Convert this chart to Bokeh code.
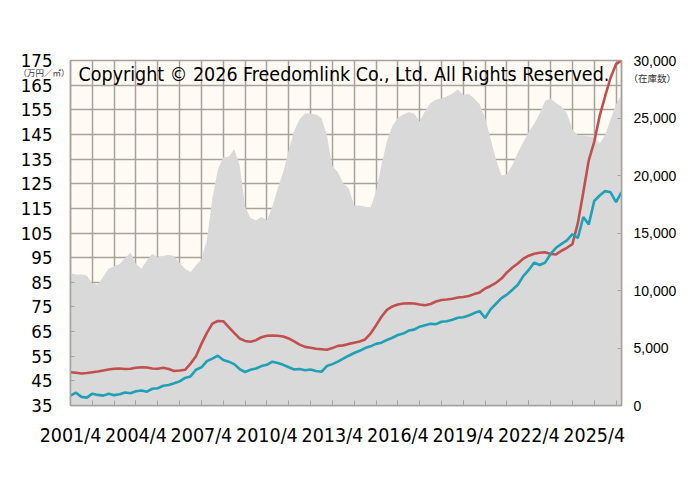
from bokeh.plotting import figure
from bokeh.models import Range1d, LinearAxis, FixedTicker, NumeralTickFormatter, Label
from bokeh.embed import file_html
from bokeh.resources import INLINE

# months since 2001/4, quarterly samples
months = [3 * q for q in range(102)]

stock = [11500, 11400, 11400, 11300, 10600, 10500, 11200, 11900, 12100, 12300,
         12800, 13300, 12300, 11900, 12600, 13200, 12900, 13000, 13100, 13000,
         12400, 11900, 11600, 12200, 12700, 14400, 18000, 20500, 21600, 21600,
         22300, 20900, 17300, 16300, 16100, 16400, 16100, 17300, 18900, 20300,
         22200, 23900, 24900, 25400, 25400, 25300, 25000, 23500, 20800, 20300,
         19300, 18900, 17400, 17400, 17300, 17200, 18600, 20900, 23000, 24300,
         25000, 25300, 25500, 25400, 24700, 25600, 26300, 26600, 26700, 26900,
         27100, 27500, 27000, 27100, 26700, 26200, 25000, 23200, 21400, 20000,
         20100, 20900, 22000, 22900, 23800, 24500, 25400, 26500, 26700, 26300,
         26000, 25400, 24000, 23500, 23500, 23400, 23400, 22800, 23500, 24900,
         26200, 27000]

price_red = [48.5, 48.3, 48.0, 48.2, 48.5, 48.8, 49.2, 49.6, 49.9, 50.0,
             49.8, 49.9, 50.3, 50.5, 50.4, 50.0, 49.9, 50.3, 49.8, 49.0,
             49.2, 49.5, 52.0, 55.0, 60.0, 64.5, 68.2, 69.3, 69.2, 66.8,
             64.5, 62.2, 61.2, 60.9, 61.5, 62.7, 63.3, 63.4, 63.3, 63.0,
             62.2, 61.0, 59.7, 58.8, 58.4, 58.0, 57.8, 57.6, 58.3, 59.2,
             59.4, 60.0, 60.5, 61.0, 61.8, 64.2, 67.5, 71.0, 73.8, 75.2,
             76.0, 76.4, 76.5, 76.4, 76.0, 75.7, 76.2, 77.2, 77.8, 78.0,
             78.3, 78.8, 79.0, 79.4, 80.2, 80.9, 82.5, 83.5, 84.8, 86.5,
             89.0, 91.0, 92.6, 94.6, 95.8, 96.6, 97.0, 97.2, 96.5, 96.3,
             97.8, 99.0, 100.5, 109.0, 121.5, 134.5, 142.0, 152.5, 160.5, 168.0,
             173.5, 175.0]

price_teal = [39.0, 40.2, 38.5, 38.2, 39.8, 39.3, 39.0, 39.8, 39.2, 39.6,
              40.3, 40.0, 40.8, 41.1, 40.6, 41.8, 42.0, 43.0, 43.3, 44.0,
              44.8, 46.2, 46.8, 49.5, 50.5, 53.0, 54.0, 55.2, 53.5, 52.8,
              51.8, 49.8, 48.6, 49.5, 50.0, 51.0, 51.5, 52.8, 52.2, 51.5,
              50.5, 49.6, 49.8, 49.3, 49.6, 49.0, 48.7, 51.0, 51.8, 52.8,
              54.0, 55.2, 56.3, 57.2, 58.3, 59.0, 60.0, 60.5, 61.6, 62.5,
              63.6, 64.2, 65.4, 65.8, 67.0, 67.6, 68.2, 68.0, 69.0, 69.2,
              69.8, 70.6, 70.8, 71.5, 72.5, 73.3, 70.5, 74.0, 76.3, 78.6,
              80.0, 82.0, 84.0, 87.5, 90.0, 93.0, 92.0, 93.0, 96.5, 99.0,
              100.6, 102.0, 104.5, 103.0, 111.5, 108.5, 118.0, 120.2, 122.0, 121.5,
              117.5, 121.6]

tick_months = [0, 36, 72, 108, 144, 180, 216, 252, 288]
tick_labels = ["2001/4", "2004/4", "2007/4", "2010/4", "2013/4",
               "2016/4", "2019/4", "2022/4", "2025/4"]
price_ticks = list(range(35, 176, 10))
stock_ticks = list(range(0, 30001, 5000))

copyright_text = "Copyright \u00a9 2026 Freedomlink Co., Ltd. All Rights Reserved."
left_unit = "（万円／㎡）"
right_unit = "（在庫数）"
left_unit_at = 170.3     # price scale position of the unit note
right_unit_at = 28500    # stock scale position of the unit note

GRID = "#A7A29D"
NARROW = "DejaVu Sans Condensed"
CJK = "Noto Sans CJK JP"

p = figure(frame_width=551, frame_height=345, output_backend="svg", toolbar_location=None,
           x_range=Range1d(0, 303), y_range=Range1d(35, 175),
           min_border_left=70, min_border_right=71, min_border_top=60, min_border_bottom=82,
           background_fill_color="#FFFBF4", border_fill_color="white")
p.extra_y_ranges = {"stock": Range1d(0, 30000)}

p.varea(x=months, y1=0, y2=stock, y_range_name="stock", fill_color="#D9D9D9")
p.line(months, price_red, line_color="#C0504D", line_width=2.6)
p.line(months, price_teal, line_color="#1FA0B6", line_width=2.6)

# x axis
xa = p.xaxis[0]
xa.ticker = FixedTicker(ticks=tick_months, minor_ticks=list(range(0, 304, 12)))
xa.major_label_overrides = {m: l for m, l in zip(tick_months, tick_labels)}
xa.major_label_text_font = NARROW
xa.major_label_text_font_size = "19.5px"
xa.major_label_text_color = "black"
xa.major_label_standoff = 18
xa.major_tick_in = 5
xa.major_tick_out = 0
xa.minor_tick_in = 5
xa.minor_tick_out = 0
xa.major_tick_line_color = GRID
xa.minor_tick_line_color = GRID
xa.axis_line_color = GRID
xa.axis_line_width = 1.5

# left axis
ya = p.yaxis[0]
ya.ticker = FixedTicker(ticks=price_ticks)
ya.major_label_text_font = NARROW
ya.major_label_text_font_size = "18.5px"
ya.major_label_text_color = "black"
ya.major_label_standoff = 18
ya.major_tick_in = 4
ya.major_tick_out = 0
ya.minor_tick_line_color = None
ya.major_tick_line_color = GRID
ya.axis_line_color = GRID
ya.axis_line_width = 1.5

# right axis
ra = LinearAxis(y_range_name="stock", ticker=FixedTicker(ticks=stock_ticks),
                formatter=NumeralTickFormatter(format="0,0"))
ra.major_label_text_font = "Liberation Sans"
ra.major_label_text_font_size = "14px"
ra.major_label_text_color = "black"
ra.major_label_standoff = 12
ra.major_tick_in = 4
ra.major_tick_out = 0
ra.minor_tick_line_color = None
ra.major_tick_line_color = GRID
ra.axis_line_color = GRID
ra.axis_line_width = 1.5
p.add_layout(ra, "right")

# unit notes drawn as single-tick axes (outside the frame)
lu = LinearAxis(ticker=FixedTicker(ticks=[left_unit_at]),
                major_label_overrides={left_unit_at: left_unit})
lu.major_label_text_font = CJK
lu.major_label_text_font_size = "8.5px"
lu.major_label_text_color = "#333333"
lu.major_label_standoff = -52
lu.axis_line_color = None
lu.major_tick_line_color = None
lu.minor_tick_line_color = None
lu.major_tick_in = 0
lu.major_tick_out = 0
p.add_layout(lu, "left")

ru = LinearAxis(y_range_name="stock", ticker=FixedTicker(ticks=[right_unit_at]),
                major_label_overrides={right_unit_at: right_unit})
ru.major_label_text_font = CJK
ru.major_label_text_font_size = "9.5px"
ru.major_label_text_color = "#333333"
ru.major_label_standoff = -51
ru.axis_line_color = None
ru.major_tick_line_color = None
ru.minor_tick_line_color = None
ru.major_tick_in = 0
ru.major_tick_out = 0
p.add_layout(ru, "right")

p.xgrid.ticker = FixedTicker(ticks=list(range(12, 303, 12)))
p.xgrid.grid_line_color = GRID
p.xgrid.grid_line_width = 1.5
p.ygrid.grid_line_color = GRID
p.ygrid.grid_line_width = 1.5
p.outline_line_color = GRID
p.outline_line_width = 1.5

p.add_layout(Label(x=4.4, y=169.2, text=copyright_text, text_baseline="middle",
                   text_font=NARROW, text_font_size="19.5px", text_color="black"))

open("out.html", "w").write(file_html(p, INLINE))
